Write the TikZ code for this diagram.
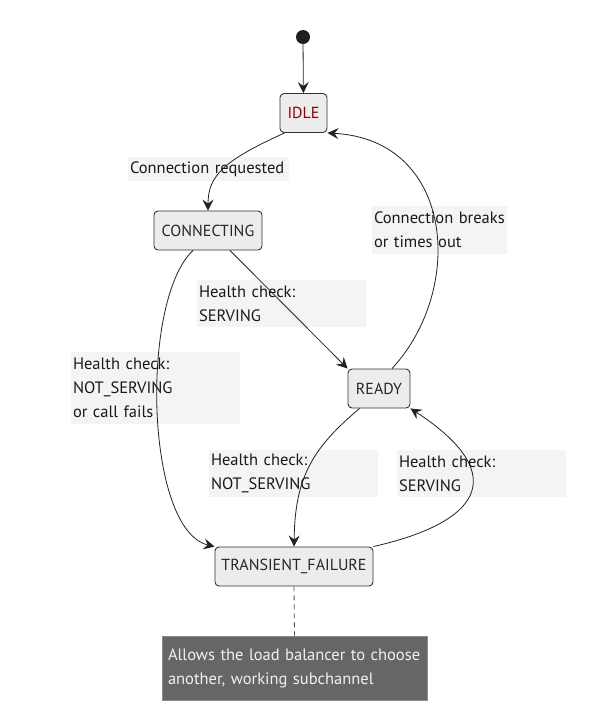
\documentclass[tikz,border=0pt]{standalone}
\usepackage{fontspec}
\setmainfont{PT Sans}
\usetikzlibrary{arrows.meta}
\definecolor{nodefill}{HTML}{ECECEC}
\definecolor{nodeline}{HTML}{333333}
\definecolor{lblfill}{HTML}{F4F4F4}
\definecolor{notefill}{HTML}{666666}
\definecolor{edgecol}{HTML}{222222}
\definecolor{idletext}{HTML}{8B0000}
\tikzset{
  state/.style={draw=nodeline, fill=nodefill, rounded corners=4pt, line width=0.9pt,
    minimum height=39pt, inner xsep=4pt, font=\fontsize{16}{18}\selectfont, text=black!85},
  lbl/.style={fill=lblfill, align=left, inner xsep=2pt, inner ysep=0pt,
    font=\fontsize{16.5}{24}\selectfont, text=black!90},
  edge/.style={draw=edgecol, line width=0.8pt, -{Stealth[length=11pt,width=11pt,inset=4pt]}},
}
\begin{document}
\begin{tikzpicture}[x=1pt,y=-1pt]
\useasboundingbox (0,0) rectangle (596,718);
% labels (behind edges)
\node[lbl, minimum width=161pt, minimum height=24pt, text width=157pt] (l1) at (208.5,169) {Connection requested};
\node[lbl, minimum width=135pt, minimum height=48pt, text width=131pt] (l2) at (439.5,230) {Connection breaks\\or times out};
\node[lbl, minimum width=169pt, minimum height=47pt, text width=165pt] (l3) at (281.5,303.5) {Health check:\\SERVING};
\node[lbl, minimum width=169pt, minimum height=72pt, text width=165pt] (l4) at (155.5,388) {Health check:\\NOT\_SERVING\\or call fails};
\node[lbl, minimum width=169pt, minimum height=47pt, text width=165pt] (l5) at (293.5,473.5) {Health check:\\NOT\_SERVING};
\node[lbl, minimum width=169pt, minimum height=47pt, text width=165pt] (l6) at (481.5,473.5) {Health check:\\SERVING};
% states
\node[circle, fill=black!88, minimum size=14pt, inner sep=0pt] (start) at (303,37) {};
\node[state, minimum width=47pt, text=idletext] (idle) at (303.5,113) {IDLE};
\node[state, minimum width=108pt] (conn) at (208,230.5) {CONNECTING};
\node[state, minimum width=62pt] (ready) at (379,388.5) {READY};
\node[state, minimum width=158pt] (tf) at (294,566.5) {TRANSIENT\_FAILURE};
\node[fill=notefill, draw=black!45, line width=0.6pt, minimum width=265pt, minimum height=64pt,
  text width=253pt, align=left, inner xsep=6pt, text=white!94!black,
  font=\fontsize{16.5}{24}\selectfont] (note) at (294.5,668) {Allows the load balancer to choose\\another, working subchannel};
% edges
\draw[edge] (start) -- (idle);
\draw[edge] (idle.south west) ++(5,0) coordinate (a1) (a1) .. controls (225,160) and (208,175) .. (conn.north);
\draw[edge] (conn.south) ++(22,0) coordinate (a2) (a2) -- (ready.north west);
\draw[edge] (conn.south) ++(-15,0) coordinate (a3) (a3) .. controls (140,300) and (145,530) .. (tf.north west);
\draw[edge] (ready.north) ++(13,0) coordinate (a4) (a4) .. controls (465,290) and (455,140) .. (idle.south east);
\draw[edge] (ready.south west) ++(12,0) coordinate (a5) (a5) .. controls (310,450) and (295,480) .. (tf.north);
\draw[edge] (tf.north east) .. controls (490,520) and (505,470) .. (ready.south east);
\draw[draw=black!70, line width=0.8pt, dash pattern=on 5pt off 4pt] (tf.south) -- (note.north);
\end{tikzpicture}
\end{document}
